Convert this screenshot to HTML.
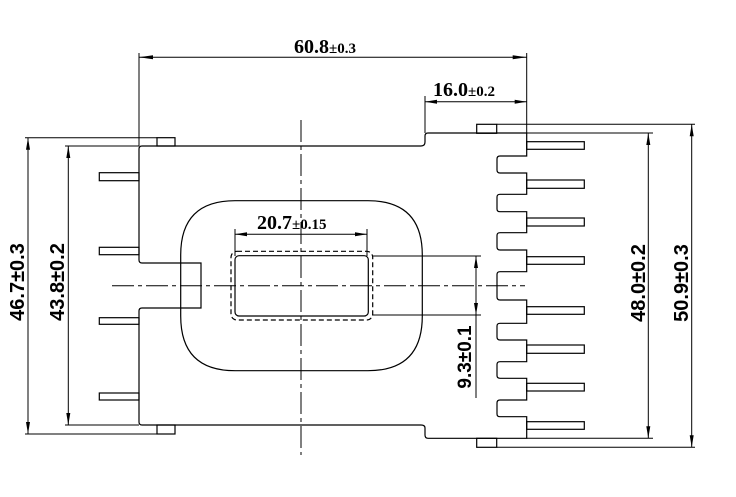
<!DOCTYPE html>
<html><head><meta charset="utf-8"><style>
html,body{margin:0;padding:0;background:#fff;}
svg{display:block;}
text{font-family:"Liberation Serif",serif;font-weight:bold;fill:#000;}
.r{font-family:"Liberation Sans",sans-serif;}
</style></head><body>
<svg width="736" height="497" viewBox="0 0 736 497" xmlns="http://www.w3.org/2000/svg">
<g fill="none" stroke="#000" stroke-width="1.2">
<path d="M139,149 Q139,146 142,146 L421,146 Q425,146 425,142 L425,136 Q425,133 428,133 L526.7,133 L526.7,156 L500,156 Q497,156 497,159 L497,170 Q497,173 500,173 L526.7,173 L526.7,194.3 L500,194.3 Q497,194.3 497,197 L497,209 Q497,211.7 500,211.7 L526.7,211.7 L526.7,232.7 L500,232.7 Q497,232.7 497,235.5 L497,247 Q497,250 500,250 L526.7,250 L526.7,271.7 L500,271.7 Q497,271.7 497,274.5 L497,297 Q497,300 500,300 L526.7,300 L526.7,323.3 L500,323.3 Q497,323.3 497,326 L497,337 Q497,340 500,340 L526.7,340 L526.7,361.7 L500,361.7 Q497,361.7 497,364.5 L497,375.5 Q497,378.3 500,378.3 L526.7,378.3 L526.7,400 L500,400 Q497,400 497,403 L497,414 Q497,416.7 500,416.7 L526.7,416.7 L526.7,438.3 L428,438.3 Q425,438.3 425,435 L425,428 Q425,425 421,425 L142,425 Q139,425 139,422 L139,311 Q139,308 142,308 L201,308 L201,263 L142,263 Q139,263 139,260 Z"/>
<rect x="157" y="137.7" width="18" height="8.3"/>
<rect x="157" y="425" width="18" height="9"/>
<rect x="476.7" y="124.3" width="20" height="9"/>
<rect x="476.7" y="438.3" width="20" height="9"/>
<rect x="99.3" y="172.7" width="39.7" height="8"/>
<rect x="99.3" y="247.3" width="39.7" height="7.4"/>
<rect x="99.3" y="317.7" width="39.7" height="6.6"/>
<rect x="99.3" y="393" width="39.7" height="7"/>
<rect x="526.7" y="141.7" width="57.6" height="7.6"/>
<rect x="526.7" y="180" width="57.6" height="8.3"/>
<rect x="526.7" y="218" width="57.6" height="8"/>
<rect x="526.7" y="256.7" width="57.6" height="7.6"/>
<rect x="526.7" y="306.7" width="57.6" height="7.6"/>
<rect x="526.7" y="345" width="57.6" height="8.3"/>
<rect x="526.7" y="383.3" width="57.6" height="7.7"/>
<rect x="526.7" y="421.7" width="57.6" height="7.6"/>
<path d="M235,200.7 L368,200.7 Q422.3,200.7 422.3,255 L422.3,316 Q422.3,370.7 368,370.7 L235,370.7 Q180.7,370.7 180.7,316 L180.7,255 Q180.7,200.7 235,200.7 Z"/>
<rect x="235" y="255.7" width="133.3" height="60.3" rx="4"/>
<rect x="231" y="251.3" width="141.7" height="68.7" rx="6" stroke-dasharray="5,3"/>
</g>
<g fill="none" stroke="#000" stroke-width="1">
<line x1="301" y1="120" x2="301" y2="455" stroke-dasharray="22,4,4,4"/>
<line x1="112" y1="285.7" x2="525" y2="285.7" stroke-dasharray="22,4,4,4"/>
<line x1="139" y1="53" x2="139" y2="146"/>
<line x1="526.7" y1="53" x2="526.7" y2="133"/>
<line x1="425" y1="96" x2="425" y2="133"/>
<line x1="25" y1="137.7" x2="157" y2="137.7"/>
<line x1="65" y1="146" x2="139" y2="146"/>
<line x1="65" y1="425" x2="139" y2="425"/>
<line x1="25" y1="434" x2="157" y2="434"/>
<line x1="496.7" y1="124.3" x2="695" y2="124.3"/>
<line x1="526.7" y1="133" x2="653" y2="133"/>
<line x1="526.7" y1="438.3" x2="653" y2="438.3"/>
<line x1="496.7" y1="447.3" x2="695" y2="447.3"/>
<line x1="372" y1="256" x2="481" y2="256"/>
<line x1="372" y1="315" x2="481" y2="315"/>
<line x1="235" y1="229" x2="235" y2="256"/>
<line x1="367" y1="229" x2="367" y2="256"/>
<line x1="139" y1="57.3" x2="526.7" y2="57.3"/>
<line x1="425" y1="101.7" x2="526.7" y2="101.7"/>
<line x1="235" y1="234.3" x2="367" y2="234.3"/>
<line x1="28" y1="137.7" x2="28" y2="434"/>
<line x1="68.3" y1="146" x2="68.3" y2="425"/>
<line x1="648.3" y1="133" x2="648.3" y2="438.3"/>
<line x1="691.7" y1="124.3" x2="691.7" y2="447.3"/>
<line x1="476" y1="256" x2="476" y2="398"/>
</g>
<g fill="#000">
<path d="M139,57.3 l14,-2 v4z"/><path d="M526.7,57.3 l-14,-2 v4z"/>
<path d="M425,101.7 l12,-2 v4z"/><path d="M526.7,101.7 l-12,-2 v4z"/>
<path d="M235,234.3 l12,-2 v4z"/><path d="M367,234.3 l-12,-2 v4z"/>
<path d="M28,137.7 l-2,12 h4z"/><path d="M28,434 l-2,-12 h4z"/>
<path d="M68.3,146 l-2,12 h4z"/><path d="M68.3,425 l-2,-12 h4z"/>
<path d="M648.3,133 l-2,12 h4z"/><path d="M648.3,438.3 l-2,-12 h4z"/>
<path d="M691.7,124.3 l-2,12 h4z"/><path d="M691.7,447.3 l-2,-12 h4z"/>
<path d="M476,256 l-2,12 h4z"/><path d="M476,315 l-2,-12 h4z"/>
</g>
<text x="294" y="53" font-size="20">60.8<tspan font-size="15">±0.3</tspan></text>
<text x="433" y="96" font-size="20">16.0<tspan font-size="15">±0.2</tspan></text>
<text x="257" y="229" font-size="20">20.7<tspan font-size="15">±0.15</tspan></text>
<text class="r" transform="translate(24,282) rotate(-90)" text-anchor="middle" font-size="20">46.7±0.3</text>
<text class="r" transform="translate(64,282) rotate(-90)" text-anchor="middle" font-size="20">43.8±0.2</text>
<text class="r" transform="translate(645,283) rotate(-90)" text-anchor="middle" font-size="20">48.0±0.2</text>
<text class="r" transform="translate(688,283) rotate(-90)" text-anchor="middle" font-size="20">50.9±0.3</text>
<text class="r" transform="translate(471,357) rotate(-90)" text-anchor="middle" font-size="19">9.3±0.1</text>
</svg>
</body></html>
